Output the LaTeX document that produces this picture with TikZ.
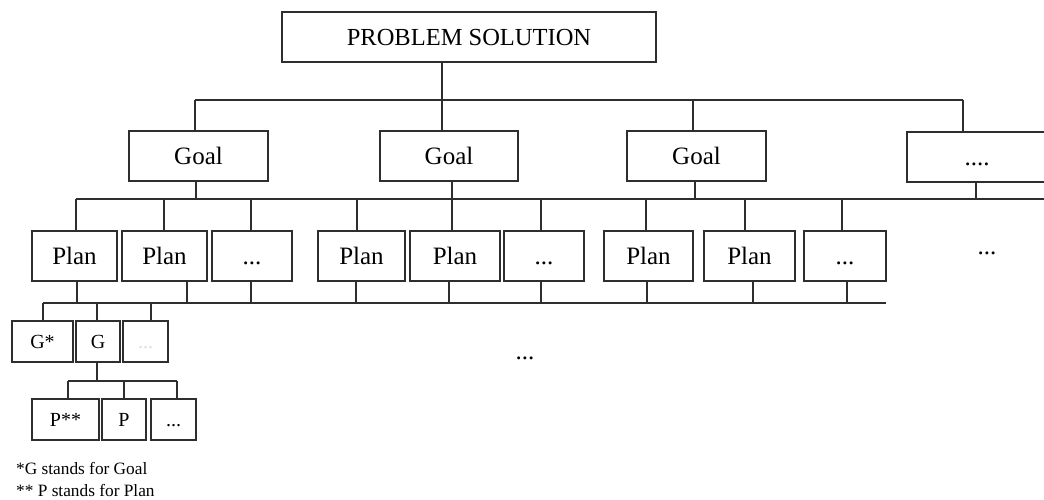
\documentclass[tikz,border=0pt]{standalone}
\usepackage{fontspec}
\setmainfont{Liberation Serif}
\definecolor{ink}{HTML}{2E2E2E}
\begin{document}
\begin{tikzpicture}[x=1pt,y=-1pt,
  box/.style={draw=ink,line width=1.6pt,inner sep=0pt,anchor=center,
    text height=17pt,text depth=0pt,font=\fontsize{25}{28}\selectfont},
  smallbox/.style={box,text height=13pt,font=\fontsize{20}{22}\selectfont},
  dots/.style={font=\fontsize{25}{28}\selectfont,inner sep=0pt},
  link/.style={draw=ink,line width=1.6pt},
  note/.style={font=\fontsize{17.3}{20}\selectfont,anchor=west,inner sep=0pt}]
\clip (0,0) rectangle (1044,499);
\fill[white] (0,0) rectangle (1044,499);

% root
\node[box,minimum width=374pt,minimum height=50pt,font=\fontsize{24.5}{28}\selectfont] (top) at (469,37) {PROBLEM SOLUTION};

% goals
\node[box,minimum width=139pt,minimum height=50pt] (g1) at (198.5,156) {Goal};
\node[box,minimum width=138pt,minimum height=50pt] (g2) at (449,156) {Goal};
\node[box,minimum width=139pt,minimum height=50pt] (g3) at (696.5,156) {Goal};
\node[box,minimum width=140pt,minimum height=50pt] (g4) at (977,157) {....};

% plans
\node[box,minimum width=85pt,minimum height=50pt] (p11) at (74.5,256) {Plan};
\node[box,minimum width=85pt,minimum height=50pt] (p12) at (164.5,256) {Plan};
\node[box,minimum width=80pt,minimum height=50pt] (p13) at (252,256) {...};
\node[box,minimum width=87pt,minimum height=50pt] (p21) at (361.5,256) {Plan};
\node[box,minimum width=90pt,minimum height=50pt] (p22) at (455,256) {Plan};
\node[box,minimum width=80pt,minimum height=50pt] (p23) at (544,256) {...};
\node[box,minimum width=89pt,minimum height=50pt] (p31) at (648.5,256) {Plan};
\node[box,minimum width=91pt,minimum height=50pt] (p32) at (749.5,256) {Plan};
\node[box,minimum width=82pt,minimum height=50pt] (p33) at (845,256) {...};
\node[dots] (pmore) at (987,253) {...};

% sub-goals
\node[smallbox,minimum width=61pt,minimum height=41pt] (sg1) at (42.5,341.5) {G*};
\node[smallbox,minimum width=44pt,minimum height=41pt] (sg2) at (98,341.5) {G};
\node[smallbox,minimum width=45pt,minimum height=41pt,text=gray!25] (sg3) at (145.5,341.5) {...};
\node[dots] (gmore) at (525,358) {...};

% sub-plans
\node[smallbox,minimum width=67pt,minimum height=41pt] (sp1) at (65.5,419.5) {P**};
\node[smallbox,minimum width=44pt,minimum height=41pt] (sp2) at (124,419.5) {P};
\node[smallbox,minimum width=45pt,minimum height=41pt] (sp3) at (173.5,419.5) {...};

% legend
\node[note] (n1) at (16,468) {*G stands for Goal};
\node[note] (n2) at (16,490) {** P stands for Plan};

% bus lines
\coordinate (b1) at (0,100);
\coordinate (b2) at (0,199);
\coordinate (b3) at (0,303);
\coordinate (b4) at (0,381);
\draw[link] (195,0 |- b1) -- (963,0 |- b1);
\draw[link] (76,0 |- b2) -- (1050,0 |- b2);
\draw[link] (43,0 |- b3) -- (886,0 |- b3);
\draw[link] (68,0 |- b4) -- (177,0 |- b4);

% root to goals
\draw[link] (top.south -| 442,0) -- (g2.north -| 442,0);
\draw[link] (g1.north -| 195,0) -- (195,0 |- b1);
\draw[link] (g3.north -| 693,0) -- (693,0 |- b1);
\draw[link] (g4.north -| 963,0) -- (963,0 |- b1);

% goals to plans
\draw[link] (g1.south -| 196,0) -- (196,0 |- b2);
\draw[link] (g2.south -| 452,0) -- (p22.north -| 452,0);
\draw[link] (g3.south -| 695,0) -- (695,0 |- b2);
\draw[link] (g4.south -| 976,0) -- (976,0 |- b2);
\draw[link] (p11.north -| 76,0) -- (76,0 |- b2);
\draw[link] (p12.north -| 164,0) -- (164,0 |- b2);
\draw[link] (p13.north -| 251,0) -- (251,0 |- b2);
\draw[link] (p21.north -| 357,0) -- (357,0 |- b2);
\draw[link] (p23.north -| 541,0) -- (541,0 |- b2);
\draw[link] (p31.north -| 646,0) -- (646,0 |- b2);
\draw[link] (p32.north -| 745,0) -- (745,0 |- b2);
\draw[link] (p33.north -| 842,0) -- (842,0 |- b2);

% plans to the lower bus
\draw[link] (p11.south -| 77,0) -- (77,0 |- b3);
\draw[link] (p12.south -| 187,0) -- (187,0 |- b3);
\draw[link] (p13.south -| 251,0) -- (251,0 |- b3);
\draw[link] (p21.south -| 356,0) -- (356,0 |- b3);
\draw[link] (p22.south -| 449,0) -- (449,0 |- b3);
\draw[link] (p23.south -| 541,0) -- (541,0 |- b3);
\draw[link] (p31.south -| 647,0) -- (647,0 |- b3);
\draw[link] (p32.south -| 753,0) -- (753,0 |- b3);
\draw[link] (p33.south -| 847,0) -- (847,0 |- b3);

% lower bus to sub-goals
\draw[link] (sg1.north -| 43,0) -- (43,0 |- b3);
\draw[link] (sg2.north -| 97,0) -- (97,0 |- b3);
\draw[link] (sg3.north -| 151,0) -- (151,0 |- b3);

% sub-goal to sub-plans
\draw[link] (sg2.south -| 97,0) -- (97,0 |- b4);
\draw[link] (sp1.north -| 68,0) -- (68,0 |- b4);
\draw[link] (sp2.north -| 124,0) -- (124,0 |- b4);
\draw[link] (sp3.north -| 177,0) -- (177,0 |- b4);
\end{tikzpicture}
\end{document}
